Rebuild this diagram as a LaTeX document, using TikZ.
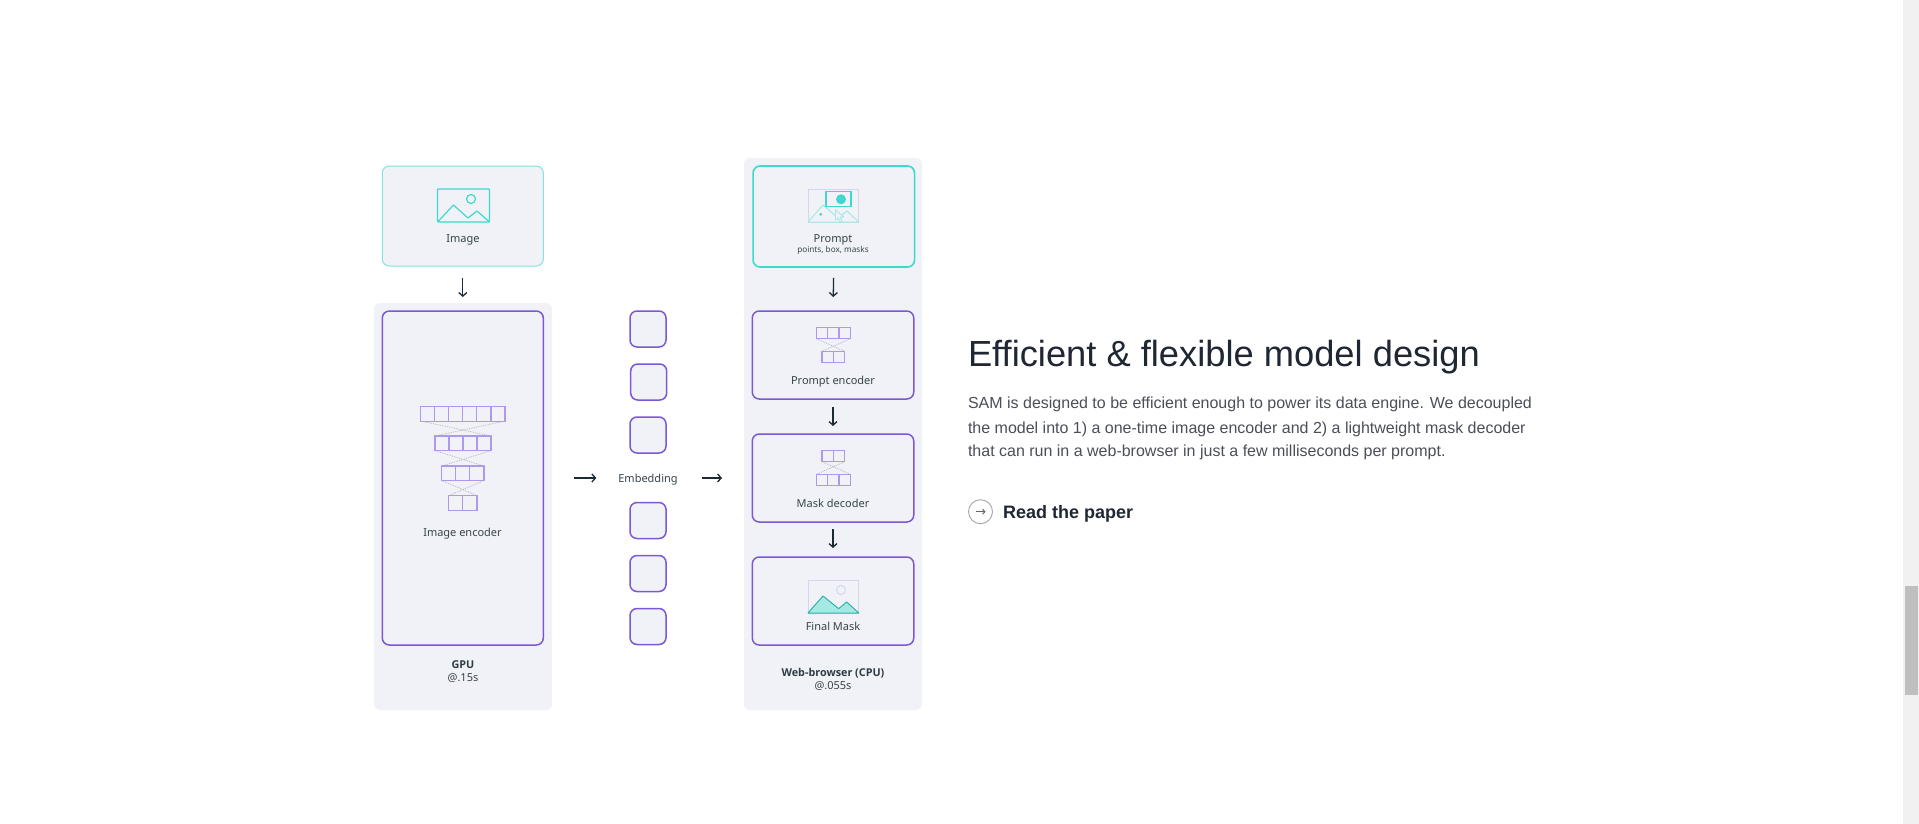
\documentclass[tikz,border=0pt]{standalone}
\usepackage{fontspec}
\setmainfont{Liberation Sans}
\newfontfamily\dgfont{Noto Sans}
\newfontfamily\dgbold{Open Sans}
\usetikzlibrary{arrows.meta}
\definecolor{panelfill}{HTML}{F1F2F8}
\definecolor{purp}{HTML}{7A58D6}
\definecolor{cellline}{HTML}{AE98EA}
\definecolor{crossline}{HTML}{B4B4C6}
\definecolor{tealA}{HTML}{3FD8CC}
\definecolor{tealB}{HTML}{7FE4DC}
\definecolor{tealC}{HTML}{A6E9E3}
\definecolor{tealD}{HTML}{2FB3AC}
\definecolor{frameline}{HTML}{CFD8EE}
\definecolor{ink}{HTML}{1C2B33}
\definecolor{bodytext}{HTML}{4B4F57}
\definecolor{headtext}{HTML}{1F2733}
\tikzset{
  x=1pt,y=-1pt,
  every node/.style={inner sep=0pt,outer sep=0pt},
  purpbox/.style={draw=purp,line width=1.5pt,fill=panelfill,rounded corners=7pt},
  tealbox/.style={draw=tealA,line width=1.6pt,fill=panelfill,rounded corners=7pt},
  softbox/.style={draw=tealB,line width=1pt,fill=panelfill,rounded corners=7pt},
  cellbox/.style={draw=cellline,line width=1.15pt},
  crossbar/.style={draw=crossline,line width=.8pt,densely dotted},
  arrowline/.style={draw=ink,line width=1.3pt,-{Straight Barb[length=3.6pt,width=8pt]}},
  lbl/.style={font=\dgfont\fontsize{11}{13}\selectfont,text=ink!88!white,anchor=base},
  lblb/.style={font=\dgbold\bfseries\fontsize{10.8}{13}\selectfont,text=ink!92!white,anchor=base},
  smalllbl/.style={font=\dgfont\fontsize{8.2}{10}\selectfont,text=ink!88!white,anchor=base},
}
% \cellrow{left}{top}{count}{cell width}{cell height}
\newcommand{\cellrow}[5]{%
  \foreach \ci in {1,...,#3}{%
    \draw[cellbox] ({#1+(\ci-1)*#4},#2) rectangle ({#1+\ci*#4},{#2+#5});
  }%
}
\begin{document}
\begin{tikzpicture}
\useasboundingbox (0,0) rectangle (1919,824);
\fill[white] (0,0) rectangle (1919,824);
% scrollbar
\fill[black!5.5] (1903,0) rectangle (1919,824);
\fill[black!25] (1905,586) rectangle (1918,695);

% panels
\node[fill=panelfill,rounded corners=6pt,minimum width=178pt,minimum height=407pt] (gpupanel) at (463,506.5) {};
\node[fill=panelfill,rounded corners=6pt,minimum width=178pt,minimum height=552pt] (cpupanel) at (833,434) {};

% left column
\node[softbox,minimum width=161pt,minimum height=100pt] (imagebox) at (462.8,216) {};
\node[purpbox,minimum width=161pt,minimum height=334pt] (encbox) at (462.8,478) {};
\draw[tealA,line width=1.3pt,rounded corners=.8pt] (437.5,189) rectangle (489.5,222);
\draw[tealA,line width=1.2pt] (471,199) circle (4.5);
\draw[tealA,line width=1.2pt,line join=round] (438,221.5) -- (453.5,205) -- (468,218) -- (477,211) -- (489,221.5);
\node[lbl] (imagelabel) at (463,242) {Image};
\cellrow{420.7}{406.7}{6}{14.05}{14.4}
\cellrow{435}{436}{4}{14}{14.6}
\cellrow{441.7}{466}{3}{14.1}{14.4}
\cellrow{448.7}{495.7}{2}{14.15}{14.4}
\draw[crossbar] (420.7,421) -- (491,436) (505,421) -- (435,436);
\draw[crossbar] (435,450.6) -- (484,466) (491,450.6) -- (441.7,466);
\draw[crossbar] (441.7,480.4) -- (477,495.7) (484,480.4) -- (448.7,495.7);
\node[lbl] (enclabel) at (462.5,536.7) {Image encoder};
\node[lblb] (gpulabel) at (463,668.7) {GPU};
\node[lbl] (gputime) at (463,681) {@.15s};

% embedding column
\foreach \nm/\cx/\cy in {ea/648/329,eb/648.7/382,ec/648/435,ed/648/520.5,ee/648/573.5,ef/648/626.5}{
  \node[purpbox,minimum width=36pt,minimum height=36pt] (\nm) at (\cx,\cy) {};
}
\node[lbl] (emblabel) at (648,482) {Embedding};
\coordinate (embmid) at (648,478);
\coordinate (cpuin) at (744,478);

% right column boxes
\node[tealbox,minimum width=161.5pt,minimum height=101pt] (promptbox) at (833.8,216.5) {};
\node[purpbox,minimum width=161.5pt,minimum height=88pt] (penc) at (833,355) {};
\node[purpbox,minimum width=161.5pt,minimum height=88pt] (mdec) at (833,478) {};
\node[purpbox,minimum width=161.5pt,minimum height=88pt] (fmask) at (833,601) {};

% prompt icon
\draw[frameline,line width=.8pt] (808,189) rectangle (858.7,222);
\draw[tealC,line width=1pt,line join=round] (808,222) -- (823,205) -- (838,218) -- (847,211) -- (858.7,222) -- cycle;
\draw[tealA,line width=1.5pt,fill=panelfill] (826,191.7) rectangle (851,206.3);
\fill[tealA] (841,199.3) circle (5);
\fill[tealA] (820.7,214.3) circle (1.5);
\draw[tealC,line width=.9pt,fill=panelfill,line join=round] (835.5,210) -- (835.5,220) -- (838.2,218) -- (840,222) -- (842,221) -- (840.2,217.2) -- (844,217) -- cycle;
\node[lbl] (promptlabel) at (833,242) {Prompt};
\node[smalllbl] (promptsub) at (833,252.7) {points, box, masks};

% prompt encoder
\cellrow{816.3}{327.3}{3}{11.33}{11.4}
\cellrow{822}{351.3}{2}{11.35}{11.4}
\draw[crossbar] (816.3,338.7) -- (844.7,351.3) (850.3,338.7) -- (822,351.3);
\node[lbl] (penclabel) at (833,384) {Prompt encoder};

% mask decoder
\cellrow{822}{450.3}{2}{11.35}{11.4}
\cellrow{816.3}{474.3}{3}{11.33}{11.4}
\draw[crossbar] (822,461.7) -- (850.3,474.3) (844.7,461.7) -- (816.3,474.3);
\node[lbl] (mdeclabel) at (833,507) {Mask decoder};

% final mask icon
\draw[frameline,line width=.8pt] (808,580) rectangle (858.7,613);
\draw[frameline,line width=.9pt] (841,590) circle (4.5);
\draw[tealD,fill=tealC,line width=1pt,line join=round] (808,613) -- (823,596) -- (838.7,608.7) -- (846.7,602) -- (858.7,613) -- cycle;
\node[lbl] (fmasklabel) at (833,630.7) {Final Mask};
\node[lblb] (cpulabel) at (833,676.7) {Web-browser (CPU)};
\node[lbl] (cputime) at (833,689) {@.055s};

% connectors
\draw[arrowline,shorten <=12pt,shorten >=14pt] (imagebox.south) -- (encbox.north);
\draw[arrowline,shorten <=31pt,shorten >=22pt] (encbox.east) -- (emblabel.west |- embmid);
\draw[arrowline,shorten <=24pt,shorten >=22pt] (emblabel.east |- embmid) -- (cpuin);
\draw[arrowline,shorten <=11pt,shorten >=14pt] (promptbox.south) -- (penc.north);
\draw[arrowline,shorten <=8pt,shorten >=8pt] (penc.south) -- (mdec.north);
\draw[arrowline,shorten <=7pt,shorten >=9pt] (mdec.south) -- (fmask.north);

% text column
\node[anchor=base west,font=\fontsize{36.3}{40}\selectfont,text=headtext] (title) at (968,366) {Efficient \& flexible model design};
\node[anchor=base west,font=\fontsize{16}{24}\selectfont,text=bodytext] (lineone) at (968,408.2) {SAM is designed to be efficient enough to power its data engine. We decoupled};
\node[anchor=base west,font=\fontsize{16}{24}\selectfont,text=bodytext] (linetwo) at (968,433) {the model into 1) a one-time image encoder and 2) a lightweight mask decoder};
\node[anchor=base west,font=\fontsize{16}{24}\selectfont,text=bodytext] (linethree) at (968,456.2) {that can run in a web-browser in just a few milliseconds per prompt.};
\node[draw=black!35,line width=.9pt,circle,minimum size=24pt,fill=white] (readcircle) at (980.5,511.7) {};
\draw[black!60,line width=1pt,-{Straight Barb[length=2.2pt,width=5pt]}] (976,511.7) -- (985.5,511.7);
\node[anchor=base west,font=\bfseries\fontsize{18}{22}\selectfont,text=headtext] (readlabel) at (1003,518) {Read the paper};
\end{tikzpicture}
\end{document}
